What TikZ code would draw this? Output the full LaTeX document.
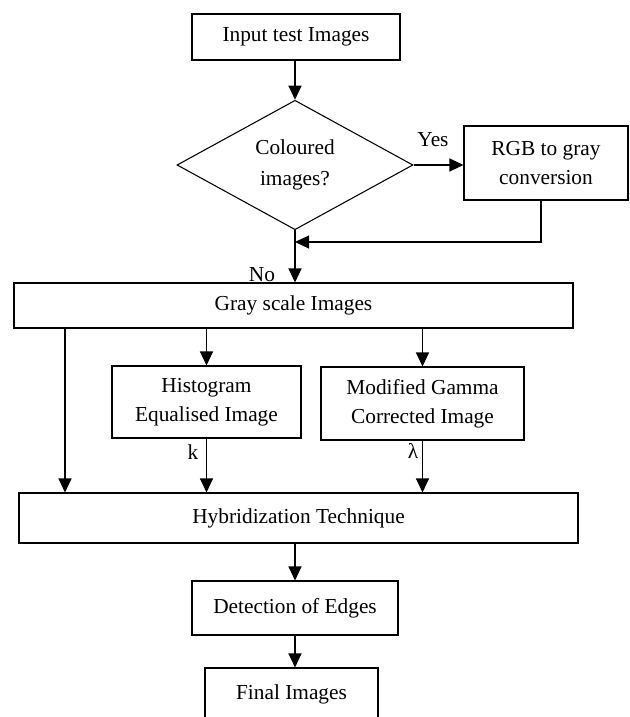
\documentclass[tikz,border=0pt]{standalone}
\usepackage{fontspec}
\setmainfont{Liberation Serif}
\usetikzlibrary{arrows.meta, shapes.geometric, positioning}

\begin{document}
\begin{tikzpicture}
% Style
[
    x=0.75pt, y=-0.75pt, line cap=butt,
    every node/.style={font=\fontsize{16}{22}\selectfont},
    size/.style 2 args={minimum width=#1*0.75pt, minimum height=#2*0.75pt},
    stage/.style={draw, line width=0.8pt, align=center, inner sep=0pt},
    decision/.style={diamond, draw, line width=0.8pt, align=center, inner sep=0pt,
        font=\fontsize{16}{23}\selectfont},
    flow/.style={line width=0.8pt, -{Triangle[length=10.5pt, width=9.75pt]}},
    tag/.style={inner sep=0pt}
]

%================================== Prepare ==================================
\clip (0,0) rectangle (629,717);
\fill[white] (0,0) rectangle (629,717);

%=================================== Start ===================================
{
    % Draw: Stages
    \node[stage, size={208}{46}] (input) at (296,37) {Input test Images};
    \node[decision, size={236}{129}] (coloured) at (295,165) {Coloured\\images?};
    \node[stage, size={164}{74}] (rgb) at (546,163) {RGB to gray\\conversion};
    \coordinate (merge) at (295,242);
    \node[stage, size={559}{45}] (gray) at (293.5,305.5) {Gray scale Images};
    \node[stage, size={189}{72}] (histeq) at (206.5,402) {Histogram\\Equalised Image};
    \node[stage, size={203}{73}] (gamma) at (422.5,403.5) {Modified Gamma\\Corrected Image};
    \coordinate (side) at (65,420);
    \node[stage, size={559}{50}] (hybrid) at (298.5,518) {Hybridization Technique};
    \node[stage, size={206}{54}] (edges) at (295,608) {Detection of Edges};
    \node[stage, size={173}{52}] (final) at (291.5,694) {Final Images};

    % Draw: Labels
    \node[tag] (yes) at (433,140) {Yes};
    \node[tag] (no) at (262,275) {No};
    \node[tag] (kval) at (193,452) {k};
    \node[tag] (lambda) at (413,451) {λ};

    % Draw: Connectors
    \draw[flow] (input.south -| coloured.north) -- (coloured.north);
    \draw[flow] (coloured.east) -- (coloured.east -| rgb.west);
    \draw[flow] ([xshift=-3.75pt]rgb.south) |- (merge);
    \draw[flow] (coloured.south) -- (coloured.south |- gray.north);
    \draw[flow] (histeq.north |- gray.south) -- (histeq.north);
    \draw[flow] (gamma.north |- gray.south) -- (gamma.north);
    \draw[flow] (side |- gray.south) -- (side |- hybrid.north);
    \draw[flow] (histeq.south) -- (histeq.south |- hybrid.north);
    \draw[flow] (gamma.south) -- (gamma.south |- hybrid.north);
    \draw[flow] (hybrid.south -| edges.north) -- (edges.north);
    \draw[flow] (edges.south) -- (edges.south |- final.north);
}
%==================================== END ====================================

\end{tikzpicture}
\end{document}
